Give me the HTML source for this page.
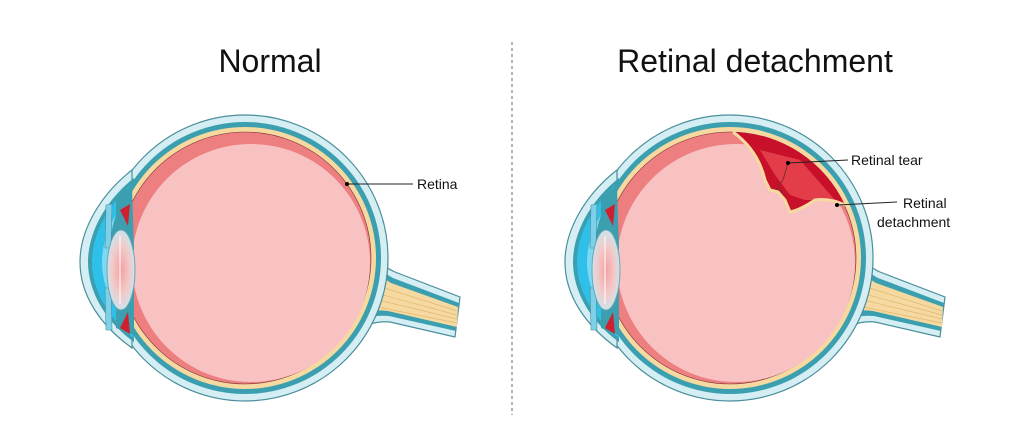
<!DOCTYPE html>
<html><head><meta charset="utf-8"><style>
html,body{margin:0;padding:0;background:#fff;width:1024px;height:425px;overflow:hidden}
svg{display:block}
text{font-family:"Liberation Sans",Arial,sans-serif;fill:#111}
</style></head><body>
<svg width="1024" height="425" viewBox="0 0 1024 425" xmlns="http://www.w3.org/2000/svg">
<defs>
<radialGradient id="lensG" cx="0.5" cy="0.5" r="0.5">
<stop offset="0" stop-color="#f4a0a0"/><stop offset="0.6" stop-color="#f3c8c8"/><stop offset="1" stop-color="#cfe3ea"/>
</radialGradient>
<g id="eye">
<!-- optic nerve -->
<path d="M355,225 Q372,262 395,272 L460,297 L455,337 L390,322 Q368,320 350,336 Z" fill="#d4eef4" stroke="#4a8f9b" stroke-width="1.2"/>
<path d="M355,232 Q370,266 393,278 L459,303 L456,331 L389,316 Q366,314 350,328 Z" fill="#3b9fb0"/>
<path d="M355,238 Q368,270 391,283 L458,307 L457,327 L388,311 Q364,308 350,320 Z" fill="#f6d9a0"/>
<g stroke="#e0b870" stroke-width="0.7" fill="none">
<path d="M375,285 L457,311"/><path d="M372,292 L457,315"/><path d="M370,298 L457,319"/><path d="M368,305 L457,323"/>
</g>
<!-- sclera -->
<circle cx="245" cy="258" r="143" fill="#d4eef4" stroke="#4a8f9b" stroke-width="1.2"/>
<!-- cornea -->
<path d="M132,170 C100,195 80,230 80,262 C80,295 100,325 132,348 Z" fill="#d4eef4" stroke="#4a8f9b" stroke-width="1.2"/>
<path d="M134,178 C106,200 88,232 88,262 C88,292 106,322 134,342 Z" fill="#3b9fb0"/>
<path d="M134,182 C108,204 92,234 92,262 C92,290 108,318 134,338 Z" fill="#2ec0e8"/>
<path d="M132,195 C112,214 102,240 102,262 C102,285 112,308 132,326 Z" fill="#7fd8f2"/>
<circle cx="245" cy="258" r="136" fill="#3b9fb0"/>
<circle cx="245" cy="258" r="131" fill="#f6d9a0"/>
<circle cx="245" cy="258" r="126" fill="#ee7f80" stroke="#7a3030" stroke-width="0.6"/>
<circle cx="251" cy="263" r="119" fill="#f9c2c2"/>
<!-- iris/ciliary -->
<path d="M116,196 L132,186 L134,250 L116,252 Z" fill="#3b9fb0"/>
<path d="M116,285 L134,286 L134,335 L116,328 Z" fill="#3b9fb0"/>
<path d="M106,205 L112,204 L111,248 L105,248 Z" fill="#7ecfe8" stroke="#4a8f9b" stroke-width="0.6"/>
<path d="M105,288 L111,288 L112,330 L106,330 Z" fill="#7ecfe8" stroke="#4a8f9b" stroke-width="0.6"/>
<path d="M120,210 L130,204 L128,226 Z" fill="#d02030"/>
<path d="M120,328 L130,334 L128,312 Z" fill="#d02030"/>
<ellipse cx="121" cy="270" rx="14" ry="40" fill="url(#lensG)" stroke="#6aa6b4" stroke-width="1"/>
<line x1="120" y1="236" x2="120" y2="304" stroke="#fff" stroke-width="1"/>
</g>
</defs>

<text x="270" y="72" font-size="32" text-anchor="middle">Normal</text>
<text x="755" y="72" font-size="32" text-anchor="middle">Retinal detachment</text>
<line x1="512" y1="42" x2="512" y2="415" stroke="#666" stroke-width="1" stroke-dasharray="3,3"/>

<use href="#eye"/>
<line x1="347" y1="184" x2="413" y2="184" stroke="#222" stroke-width="1"/>
<circle cx="347" cy="184" r="2" fill="#000"/>
<text x="417" y="189" font-size="14">Retina</text>

<g transform="translate(485,0)"><use href="#eye"/></g>
<!-- detachment region -->
<path d="M733,132 A126,126 0 0 1 845,205 Q830,198 815,200 Q798,210 790,212 L785,200 L778,192 L770,190 L765,180 Q755,150 733,132 Z" fill="#c8102a"/>
<path d="M760,150 L800,160 L835,200 L805,200 L790,195 L775,175 Z" fill="#e84850" opacity="0.8"/>
<path d="M733,132 Q758,150 765,180 L770,190 L778,192 L785,200 L790,212 Q800,210 815,200 Q830,198 845,205" fill="none" stroke="#f6d9a0" stroke-width="3"/>
<path d="M788,163 L783,180 L777,188 L785,195" fill="none" stroke="#7a3030" stroke-width="1"/>
<line x1="788" y1="163" x2="848" y2="160" stroke="#222" stroke-width="1"/>
<circle cx="788" cy="163" r="2" fill="#000"/>
<text x="851" y="165" font-size="14">Retinal tear</text>
<line x1="837" y1="205" x2="897" y2="202" stroke="#222" stroke-width="1"/>
<circle cx="837" cy="205" r="2" fill="#000"/>
<text x="903" y="208" font-size="14">Retinal</text>
<text x="877" y="227" font-size="14">detachment</text>
</svg>
</body></html>
